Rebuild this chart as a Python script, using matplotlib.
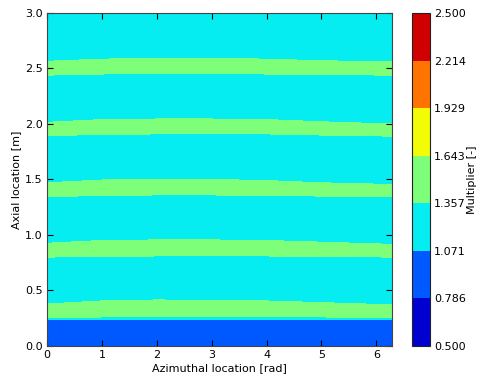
import numpy as np
import matplotlib
matplotlib.use("Agg")
import matplotlib.pyplot as plt

# azimuthal stations where the zone edges were read [rad]
azimuth = [0.0, 1.0, 2.0, 3.0, 4.0, 5.0, 6.283]

# axial position of each zone edge at every station [m], bottom to top
edge_rows = [
    [0.234, 0.234, 0.234, 0.234, 0.234, 0.234, 0.234],
    [0.252, 0.260, 0.264, 0.265, 0.264, 0.260, 0.258],
    [0.378, 0.405, 0.414, 0.410, 0.405, 0.390, 0.370],
    [0.800, 0.805, 0.810, 0.810, 0.810, 0.805, 0.800],
    [0.925, 0.950, 0.955, 0.955, 0.950, 0.935, 0.915],
    [1.345, 1.355, 1.360, 1.360, 1.355, 1.350, 1.345],
    [1.470, 1.495, 1.500, 1.500, 1.490, 1.470, 1.455],
    [1.895, 1.905, 1.910, 1.915, 1.910, 1.900, 1.890],
    [2.015, 2.040, 2.045, 2.045, 2.040, 2.020, 2.000],
    [2.440, 2.450, 2.455, 2.455, 2.450, 2.445, 2.440],
    [2.565, 2.585, 2.590, 2.590, 2.585, 2.570, 2.560],
]
# multiplier inside each zone, bottom to top
zone_values = [0.93, 1.20, 1.50, 1.20, 1.50, 1.20, 1.50, 1.20, 1.50, 1.20, 1.50, 1.20]

levels = [0.500, 0.786, 1.071, 1.357, 1.643, 1.929, 2.214, 2.500]
axial_length = 3.0

# curvilinear grid: two nodes hugging each edge so the contour sits on it
d = 0.002
ys = [np.zeros(len(azimuth))]
zs = [np.full(len(azimuth), zone_values[0])]
for k, row in enumerate(edge_rows):
    row = np.array(row)
    ys.append(row - d)
    zs.append(np.full(len(azimuth), zone_values[k]))
    ys.append(row + d)
    zs.append(np.full(len(azimuth), zone_values[k + 1]))
ys.append(np.full(len(azimuth), axial_length))
zs.append(np.full(len(azimuth), zone_values[-1]))
Y = np.array(ys)
Z = np.array(zs)
X = np.tile(np.array(azimuth), (Y.shape[0], 1))

plt.rcParams['font.family'] = ['DejaVu Sans']
plt.rcParams['font.size'] = 8

fig = plt.figure(figsize=(4.79, 3.83), dpi=100)
ax = fig.add_axes([0.098, 0.097, 0.720, 0.869])
cax = fig.add_axes([0.860, 0.097, 0.037, 0.869])

cs = ax.contourf(X, Y, Z, levels=levels, cmap='jet')
ax.set_xlim(0, azimuth[-1])
ax.set_ylim(0, axial_length)
ax.set_xticks([0, 1, 2, 3, 4, 5, 6])
ax.set_yticks([0.0, 0.5, 1.0, 1.5, 2.0, 2.5, 3.0])
ax.set_yticklabels(['0.0', '0.5', '1.0', '1.5', '2.0', '2.5', '3.0'])
ax.tick_params(direction='in', top=True, right=True, length=4, width=0.8, pad=3)
for s in ax.spines.values():
    s.set_color('#444444')
ax.set_xlabel('Azimuthal location [rad]', labelpad=2)
ax.set_ylabel('Axial location [m]', labelpad=3)

cb = fig.colorbar(cs, cax=cax, ticks=levels, format='%.3f')
cb.ax.tick_params(length=0, pad=3)
cb.outline.set_edgecolor('#222222')
cb.set_label('Multiplier [-]', labelpad=1)

fig.savefig('out.png', dpi=100)
